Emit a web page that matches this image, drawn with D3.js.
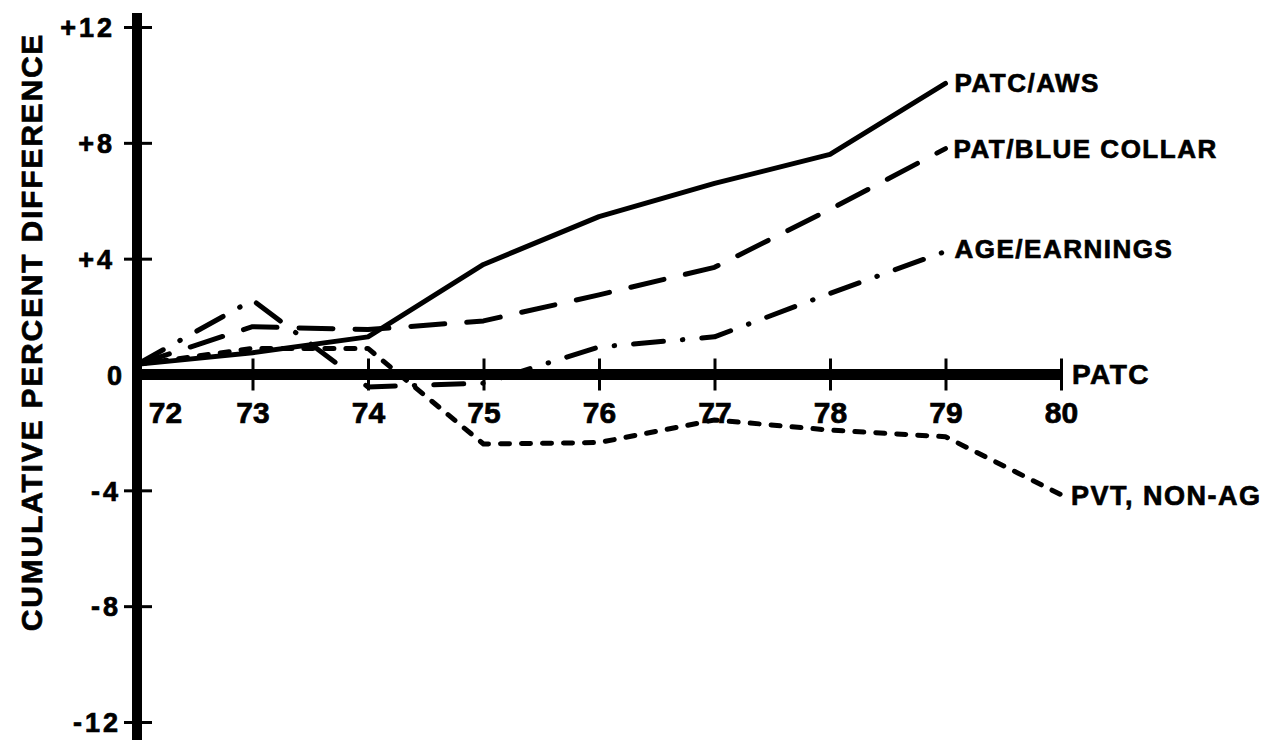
<!DOCTYPE html>
<html>
<head>
<meta charset="utf-8">
<script src="https://cdn.jsdelivr.net/npm/d3@7"></script>
<style>
  body { margin: 0; background: #fff; }
  svg { display: block; }
  text { font-family: 'Liberation Sans', Arial, Helvetica, sans-serif; font-weight: bold; fill: #000; stroke: #000; stroke-width: 0.7px; }
</style>
</head>
<body>
<svg id="chart"></svg>
<script>
// years on the x axis
const years = [72, 73, 74, 75, 76, 77, 78, 79, 80];
// cumulative percent difference (one value per year)
const patcAws = [0.35, 0.75, 1.3, 3.8, 5.45, 6.6, 7.6, 10.05];
const patBlueCollar = [0.35, 1.65, 1.55, 1.85, 2.75, 3.7, 5.7, 7.8];
const ageEarnings = [0.35, 2.57, -0.43, -0.3, 0.95, 1.3, 2.8, 4.25];
const pvtNonAg = [0.35, 0.9, 0.9, -2.4, -2.35, -1.57, -1.92, -2.15, -4.15];
const patc = [0, 0, 0, 0, 0, 0, 0, 0, 0];
const seriesNames = ['PATC/AWS', 'PAT/BLUE COLLAR', 'AGE/EARNINGS', 'PVT, NON-AG', 'PATC'];
const yTicks = [-12, -8, -4, 0, 4, 8, 12];
const yTitle = 'CUMULATIVE PERCENT DIFFERENCE';

const width = 1266, height = 740;
const svg = d3.select('#chart').attr('width', width).attr('height', height);

const x = d3.scaleLinear().domain([72, 80]).range([137, 1061]);
const y = d3.scaleLinear().domain([-12, 12]).range([722, 27]);

// y axis title
svg.append('text')
  .attr('transform', `translate(31,${332}) rotate(-90)`)
  .attr('text-anchor', 'middle')
  .attr('dominant-baseline', 'central')
  .style('font-size', '30px')
  .style('letter-spacing', '1.8px')
  .text(yTitle);

// y axis: thick spine, ticks across it, signed labels
const yAxis = svg.append('g')
  .attr('transform', `translate(${x(72)},0)`)
  .call(d3.axisLeft(y).tickValues(yTicks).tickSize(0).tickPadding(22)
    .tickFormat(d => d > 0 ? '+' + d : String(d)));
yAxis.select('.domain').remove();
yAxis.selectAll('.tick text')
  .style('font-size', '27px')
  .style('letter-spacing', '3px')
  .style('font-family', "'Liberation Sans', Arial, sans-serif")
  .style('font-weight', 'bold')
  .attr('dy', '0.36em')
  .attr('dx', d => d === 0 ? 10 : (d < 0 ? 6 : 0));
yAxis.selectAll('.tick').filter(d => d !== 0).append('line')
  .attr('x1', -13).attr('x2', 15)
  .attr('stroke', '#000').attr('stroke-width', 3);
yAxis.append('line')
  .attr('x1', 0).attr('x2', 0)
  .attr('y1', 13).attr('y2', height)
  .attr('stroke', '#000').attr('stroke-width', 10);

// x axis ticks and year labels
const xAxis = svg.append('g')
  .attr('transform', `translate(0,${y(0)})`)
  .call(d3.axisBottom(x).tickValues(years).tickSize(0).tickPadding(27)
    .tickFormat(d => String(d)));
xAxis.select('.domain').remove();
xAxis.selectAll('.tick text')
  .style('font-size', '30px')
  .style('font-family', "'Liberation Sans', Arial, sans-serif")
  .style('font-weight', 'bold')
  .attr('dx', d => d === 72 ? 28 : 0);
xAxis.selectAll('.tick').filter(d => d !== 72).append('line')
  .attr('y1', -16).attr('y2', 16)
  .attr('stroke', '#000').attr('stroke-width', 3);

// series
const line = d3.line()
  .x((d, i) => x(years[i]))
  .y(d => y(d));

const styles = [
  { values: patcAws, width: 5, dash: null, dy: 9, dx: 9, size: 26 },
  { values: patBlueCollar, width: 5, dash: '34,22', dy: 9, dx: 8, size: 26 },
  { values: ageEarnings, width: 5, dash: '30,19,0.5,19', dy: 7, dx: 9, size: 26 },
  { values: pvtNonAg, width: 5, dash: '9,12', dy: 10, dx: 10, size: 27 },
  { values: patc, width: 11, dash: null, dy: 0, dx: 11, size: 28 }
];

styles.forEach((s, k) => {
  svg.append('path')
    .datum(s.values)
    .attr('d', line)
    .attr('fill', 'none')
    .attr('stroke', '#000')
    .attr('stroke-width', s.width)
    .attr('stroke-linecap', k === 4 ? 'butt' : 'round')
    .attr('stroke-linejoin', 'round')
    .attr('stroke-dasharray', s.dash);

  const last = s.values.length - 1;
  svg.append('text')
    .attr('x', x(years[last]) + s.dx)
    .attr('y', y(s.values[last]) + s.dy)
    .attr('dominant-baseline', k === 4 ? 'central' : 'auto')
    .style('font-size', s.size + 'px')
    .style('letter-spacing', '1.5px')
    .text(seriesNames[k]);
});
</script>
</body>
</html>
